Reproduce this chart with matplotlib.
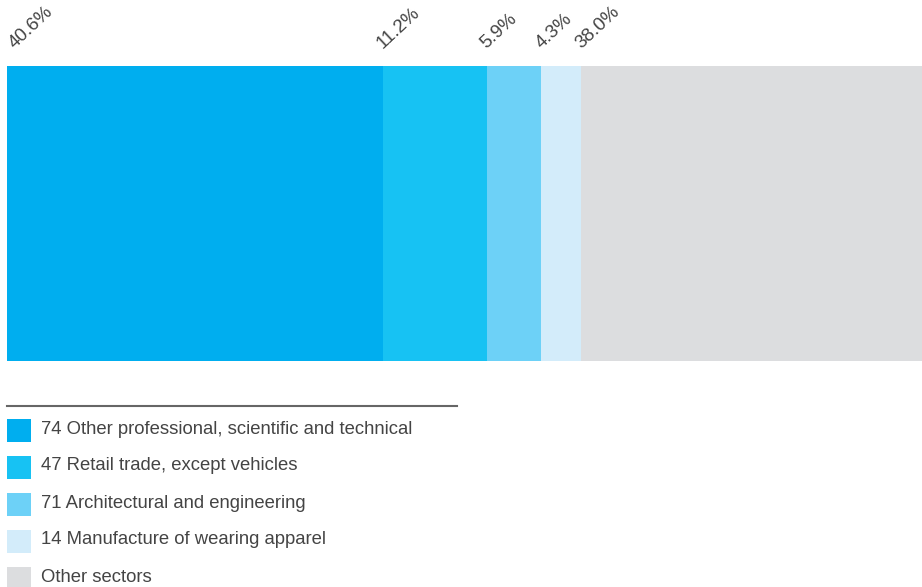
import matplotlib.pyplot as plt
from matplotlib.patches import Rectangle
import matplotlib.transforms as mtransforms

# Dados
setores = [
    "74 Other professional, scientific and technical",
    "47 Retail trade, except vehicles",
    "71 Architectural and engineering",
    "14 Manufacture of wearing apparel",
    "Other sectors",
]
percentuais = [40.6, 11.2, 5.9, 4.3, 38.0]
rotulos = ["40.6%", "11.2%", "5.9%", "4.3%", "38.0%"]
cores = ["#00AEEF", "#17C2F3", "#6DD1F7", "#D3ECFA", "#DCDDDF"]

W, H = 922, 587
fig = plt.figure(figsize=(W / 100, H / 100), dpi=100)
plt.rcParams["font.family"] = ["Liberation Sans", "DejaVu Sans"]

# Barra empilhada (se estende um pouco além da borda direita)
ax = fig.add_axes([7 / W, (H - 361) / H, (933 - 7) / W, 295 / H])
inicio = 0
for i, (p, r, c) in enumerate(zip(percentuais, rotulos, cores)):
    ax.barh(0, p, left=inicio, height=1, color=c, linewidth=0)
    dx = 8 if i == 0 else 0
    off = mtransforms.offset_copy(ax.transData, fig=fig, x=dx, y=17, units="dots")
    ax.text(inicio, 0.5, r, transform=off, rotation=43, rotation_mode="anchor",
            ha="left", va="baseline", fontsize=13.5, color="#444444")
    inicio += p
ax.set_xlim(0, 100)
ax.set_ylim(-0.5, 0.5)
ax.axis("off")

# Legenda
lg = fig.add_axes([0, 0, 1, 1])
lg.set_xlim(0, W)
lg.set_ylim(H, 0)
lg.axis("off")
lg.plot([7, 457], [406, 406], color="#666666", linewidth=1.5)
for i, (s, c) in enumerate(zip(setores, cores)):
    y = 430 + i * 37
    lg.add_patch(Rectangle((7, y - 11.5), 24, 23, facecolor=c, linewidth=0))
    lg.text(41, y - 1, s, fontsize=13.3, color="#444444", va="center", ha="left")

fig.savefig("out.png", dpi=100)
